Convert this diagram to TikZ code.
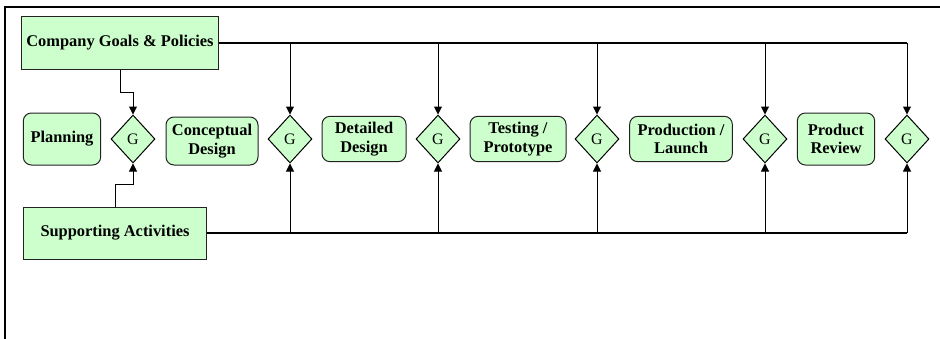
\documentclass[tikz,border=0pt]{standalone}
\usepackage{fontspec}
\setmainfont{Liberation Serif}
\usetikzlibrary{shapes.geometric,arrows.meta}

\definecolor{boxgreen}{HTML}{CCFFCC}
\definecolor{boxline}{HTML}{222222}

\tikzset{
  stage/.style={draw=boxline,fill=boxgreen,rounded corners=6pt,align=center,
    font=\fontsize{12.3}{13.8}\selectfont\bfseries,inner sep=1pt,line width=0.75pt},
  source/.style={draw=boxline,fill=boxgreen,align=center,
    font=\fontsize{12.3}{13.8}\selectfont\bfseries,line width=0.75pt},
  gate/.style={diamond,draw=black,fill=boxgreen,inner sep=0pt,
    minimum width=33pt,minimum height=36pt,font=\fontsize{12}{13}\selectfont,line width=0.75pt},
  arr/.style={-{Triangle[length=6pt,width=6pt]},line width=0.75pt},
  bus/.style={line width=1pt}
}

\begin{document}
\begin{tikzpicture}[x=0.75pt,y=-0.75pt]
\useasboundingbox (0,0) rectangle (940,339);
\draw[line width=1.1pt] (5,339)--(5,7)--(940,7);

\node[source,minimum width=145.5pt,minimum height=40pt] (goals) at (120,43) {Company Goals \& Policies};
\node[source,minimum width=137pt,minimum height=39pt] (support) at (115,233) {Supporting Activities};

\node[stage,minimum width=58pt,minimum height=39pt] (planning) at (62,139) {Planning};
\node[stage,minimum width=69pt,minimum height=36pt] (concept) at (212,141) {Conceptual\\Design};
\node[stage,minimum width=63pt,minimum height=34pt] (detail) at (364,139) {Detailed\\Design};
\node[stage,minimum width=72pt,minimum height=34pt] (test) at (518,139) {Testing /\\Prototype};
\node[stage,minimum width=77pt,minimum height=34pt] (launch) at (681,139) {Production /\\Launch};
\node[stage,minimum width=58pt,minimum height=39pt] (review) at (836,139) {Product\\Review};

\node[gate] (g1) at (133,139) {G};
\node[gate] (g2) at (290,139) {G};
\node[gate] (g3) at (438,139) {G};
\node[gate] (g4) at (597,139) {G};
\node[gate] (g5) at (765,139) {G};
\node[gate] (g6) at (907,139) {G};

% first gate fed directly from both boxes
\draw[arr] (goals.south) -- ++(0,22) -| (g1.north);
\draw[arr] (support.north) -- ++(0,-22) -| (g1.south);

% buses to the remaining gates
\draw[bus] (goals.east) -- (g6.north |- goals.east);
\draw[bus] (support.east) -- (g6.south |- support.east);
\foreach \g in {g2,g3,g4,g5,g6}{
  \draw[arr] (\g.north |- goals.east) -- (\g.north);
  \draw[arr] (\g.south |- support.east) -- (\g.south);
}
\end{tikzpicture}
\end{document}
